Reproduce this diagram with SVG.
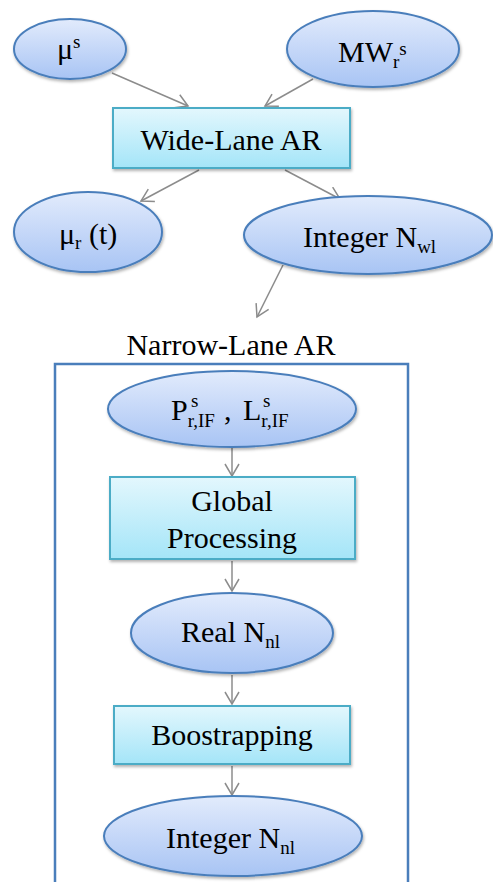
<svg xmlns="http://www.w3.org/2000/svg" width="493" height="882" viewBox="0 0 493 882">
<defs>
<linearGradient id="gEll" x1="0" y1="0" x2="0" y2="1">
<stop offset="0" stop-color="#e2ebfc"/>
<stop offset="1" stop-color="#a8c4f4"/>
</linearGradient>
<linearGradient id="gBox" x1="0" y1="0" x2="0" y2="1">
<stop offset="0" stop-color="#e3f7fd"/>
<stop offset="1" stop-color="#a4e5f8"/>
</linearGradient>
<filter id="sh" x="-10%" y="-10%" width="125%" height="130%">
<feDropShadow dx="1" dy="2" stdDeviation="1.5" flood-color="#000" flood-opacity="0.3"/>
</filter>
<marker id="arr" markerWidth="16" markerHeight="16" refX="13" refY="8" orient="auto" markerUnits="userSpaceOnUse">
<path d="M1,1 L13,8 L1,15" fill="none" stroke="#8c8c8c" stroke-width="1.5"/>
</marker>
</defs>
<style>
.ell{fill:url(#gEll);stroke:#4a7ebb;stroke-width:2;filter:url(#sh)}
.box{fill:url(#gBox);stroke:#4bacc6;stroke-width:2;filter:url(#sh)}
text{font-family:'Liberation Serif','Times New Roman',serif;font-size:30px;fill:#000}
.sub{font-size:19px}
.con{stroke:#8c8c8c;stroke-width:1.5;fill:none;marker-end:url(#arr)}
</style>

<g id="container">
<path d="M55,882 L55,364 L408,364 L408,882" fill="none" stroke="#4a7ebb" stroke-width="2.5"/>
<text x="231" y="355" text-anchor="middle">Narrow-Lane AR</text>
</g>

<g id="connectors">
<line class="con" x1="112" y1="73" x2="188" y2="106"/>
<line class="con" x1="313" y1="79" x2="265" y2="106"/>
<line class="con" x1="199" y1="170" x2="141" y2="201"/>
<line class="con" x1="285" y1="170" x2="340" y2="199"/>
<line class="con" x1="283" y1="265" x2="257" y2="317"/>
<line class="con" x1="232" y1="448" x2="232" y2="476"/>
<line class="con" x1="232" y1="561" x2="232" y2="591"/>
<line class="con" x1="232" y1="675" x2="232" y2="704"/>
<line class="con" x1="232" y1="766" x2="232" y2="795"/>
</g>

<g id="mu_s">
<ellipse class="ell" cx="70" cy="49" rx="56" ry="30"/>
<text x="57" y="59">μ<tspan class="sub" dy="-11">s</tspan></text>
</g>

<g id="mw">
<ellipse class="ell" cx="373" cy="49" rx="86" ry="38"/>
<text x="338" y="62">MW<tspan class="sub" dy="6">r</tspan><tspan class="sub" dy="-13">s</tspan></text>
</g>

<g id="widelane">
<rect class="box" x="113" y="108" width="237" height="60"/>
<text x="231" y="150" text-anchor="middle">Wide-Lane AR</text>
</g>

<g id="mu_r">
<ellipse class="ell" cx="88" cy="232" rx="74" ry="40"/>
<text x="59" y="244">μ<tspan class="sub" dy="5">r</tspan><tspan dy="-5"> (t)</tspan></text>
</g>

<g id="int_wl">
<ellipse class="ell" cx="368" cy="235" rx="124" ry="39"/>
<text x="303" y="247">Integer N<tspan class="sub" dy="6">wl</tspan></text>
</g>

<g id="obs">
<ellipse class="ell" cx="232" cy="409" rx="124" ry="38"/>
<text x="171" y="420">P<tspan class="sub" dy="7">r,IF</tspan><tspan class="sub" x="191" dy="-20">s</tspan><tspan x="224" dy="13">,</tspan><tspan x="243">L</tspan><tspan class="sub" dy="7">r,IF</tspan><tspan class="sub" x="263" dy="-20">s</tspan></text>
</g>

<g id="global">
<rect class="box" x="110" y="477" width="245" height="82"/>
<text x="232" y="511" text-anchor="middle">Global</text>
<text x="232" y="548" text-anchor="middle">Processing</text>
</g>

<g id="real_nl">
<ellipse class="ell" cx="232" cy="633" rx="101" ry="40"/>
<text x="181" y="642">Real N<tspan class="sub" dy="6">nl</tspan></text>
</g>

<g id="boot">
<rect class="box" x="114" y="706" width="236" height="58"/>
<text x="232" y="745" text-anchor="middle">Boostrapping</text>
</g>

<g id="int_nl">
<ellipse class="ell" cx="233" cy="836" rx="129" ry="40"/>
<text x="166" y="848">Integer N<tspan class="sub" dy="6">nl</tspan></text>
</g>
</svg>
